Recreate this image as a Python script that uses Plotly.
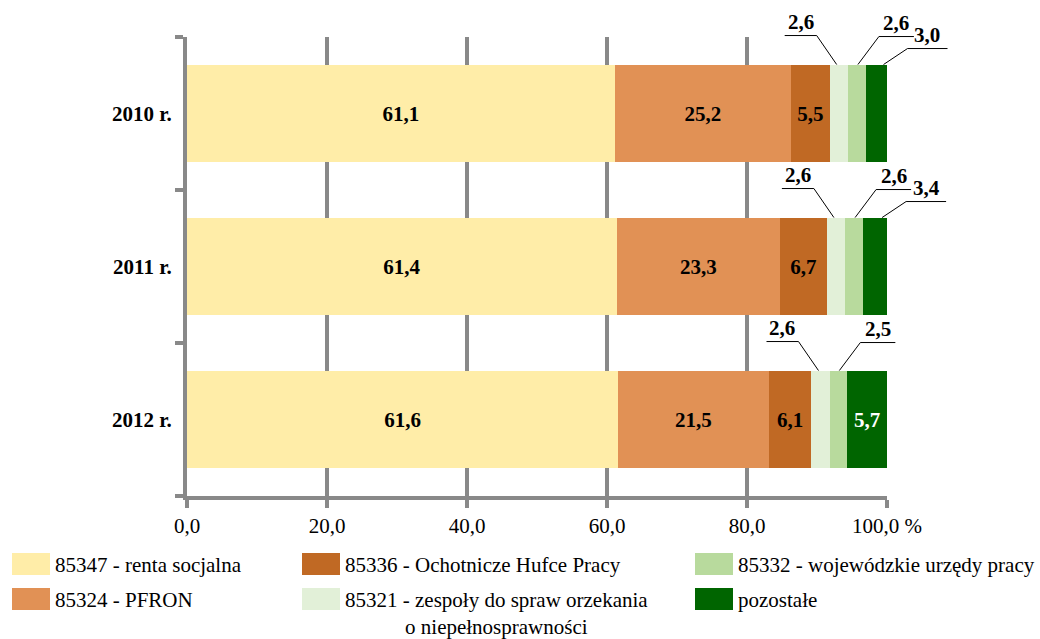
import plotly.graph_objects as go

# ---------------- data ----------------
YEARS = ["2010 r.", "2011 r.", "2012 r."]
SERIES = [
    "85347 - renta socjalna",
    "85324 - PFRON",
    "85336 - Ochotnicze Hufce Pracy",
    "85321 - zespoły do spraw orzekania<br>o niepełnosprawności",
    "85332 - wojewódzkie urzędy pracy",
    "pozostałe",
]
renta = [61.1, 61.4, 61.6]
pfron = [25.2, 23.3, 21.5]
ohp = [5.5, 6.7, 6.1]
zespoly = [2.6, 2.6, 2.6]
wup = [2.6, 2.6, 2.5]
pozostale = [3.0, 3.4, 5.7]
VALUES = [renta, pfron, ohp, zespoly, wup, pozostale]
X_TICKS = [0, 20, 40, 60, 80, 100]
X_TICKTEXT = ["0,0", "20,0", "40,0", "60,0", "80,0", "100,0 %"]

# ---------------- style ----------------
COLORS = ["#FFEDA8", "#E19155", "#C06924", "#E2F0D8", "#B8DA9D", "#006500"]
TEXT_COLORS = ["black", "black", "black", "black", "black", "white"]
GRAY = "#898989"
FONT = "Liberation Serif, Times New Roman, serif"
W, H = 1040, 639
L, R, T, B = 187, 153, 37, 143
PW, PH = W - L - R, H - T - B
BAR_W = 0.64
INSIDE_MIN = 5.0
LABEL_SIZE = 21

# leader-line style for small segments (pixels): anchor dx, elbow (dx, dy), underline length
LEADER = {
    3: dict(adx=-2, elbow=(-20, -29), under=-32),
    4: dict(adx=1, elbow=(21, -28), under=35),
    5: dict(adx=7, elbow=(24, -16), under=40),
}


def fmt(v):
    return f"{v:.1f}".replace(".", ",")


def data2px(x, y):
    return L + x / 100 * PW, T + (y + 0.5) / 3 * PH


def px2paper(px, py):
    return (px - L) / PW, (H - B - py) / PH


fig = go.Figure()
ypos = list(range(len(YEARS)))
for j, (name, vals) in enumerate(zip(SERIES, VALUES)):
    texts = [fmt(v) if v >= INSIDE_MIN else "" for v in vals]
    fig.add_trace(go.Bar(
        orientation="h", x=vals, y=ypos, name=name, width=BAR_W,
        marker=dict(color=COLORS[j], line=dict(width=0)),
        text=texts, textposition="inside", insidetextanchor="middle",
        textangle=0, constraintext="none",
        textfont=dict(family=FONT, size=LABEL_SIZE, color=TEXT_COLORS[j], weight="bold"),
        showlegend=False, hoverinfo="x+name",
    ))

shapes = []
annotations = []

# outside labels with leader lines
for i in ypos:
    cum = 0.0
    for j, vals in enumerate(VALUES):
        v = vals[i]
        if v < INSIDE_MIN and j in LEADER:
            st = LEADER[j]
            ax, ay = data2px(cum + v / 2, i - BAR_W / 2)
            ax += st["adx"]
            ex, ey = ax + st["elbow"][0], ay + st["elbow"][1]
            ux = ex + st["under"]
            p = [px2paper(ax, ay), px2paper(ex, ey), px2paper(ux, ey)]
            path = "M {:.5f},{:.5f} L {:.5f},{:.5f} L {:.5f},{:.5f}".format(
                p[0][0], p[0][1], p[1][0], p[1][1], p[2][0], p[2][1])
            shapes.append(dict(type="path", xref="paper", yref="paper", path=path,
                               line=dict(color="black", width=1)))
            tx, ty = px2paper((ex + ux) / 2, ey - 14)
            annotations.append(dict(xref="paper", yref="paper", x=tx, y=ty,
                                    text=fmt(v), showarrow=False,
                                    xanchor="center", yanchor="middle",
                                    font=dict(family=FONT, size=LABEL_SIZE, color="black",
                                              weight="bold")))
        cum += v

# manual legend
LEG_POS = [(12, 553), (12, 588), (302, 553), (302, 588), (695, 553), (695, 588)]
for j, name in enumerate(SERIES):
    sx, sy = LEG_POS[j]
    x0, y0 = px2paper(sx, sy + 22)
    x1, y1 = px2paper(sx + 38, sy)
    shapes.append(dict(type="rect", xref="paper", yref="paper", x0=x0, y0=y0,
                       x1=x1, y1=y1, fillcolor=COLORS[j], line=dict(width=0)))
    tx, ty = px2paper(sx + 41, sy + 12)
    annotations.append(dict(xref="paper", yref="paper", x=tx, y=ty, text=name,
                            showarrow=False, xanchor="left",
                            yanchor="top" if "<br>" in name else "middle",
                            yshift=14 if "<br>" in name else 0,
                            align="center",
                            font=dict(family=FONT, size=21, color="black")))

fig.update_layout(
    barmode="stack", width=W, height=H,
    margin=dict(l=L, r=R, t=T, b=B, pad=0),
    paper_bgcolor="white", plot_bgcolor="white",
    font=dict(family=FONT, size=20, color="black"),
    shapes=shapes, annotations=annotations, showlegend=False,
    xaxis=dict(
        range=[0, 100], tickvals=X_TICKS, ticktext=X_TICKTEXT,
        ticks="outside", ticklen=8, tickwidth=4, tickcolor=GRAY,
        showline=True, linecolor=GRAY, linewidth=4,
        showgrid=True, gridcolor=GRAY, gridwidth=4, zeroline=False,
        tickfont=dict(family=FONT, size=21, color="black"),
    ),
    yaxis=dict(
        range=[2.5, -0.5], tickvals=ypos, ticktext=YEARS, ticks="",
        showline=True, linecolor=GRAY, linewidth=4,
        showgrid=False, zeroline=False, ticklabelstandoff=7,
        tickfont=dict(family=FONT, size=21, color="black", weight="bold"),
        minor=dict(tickvals=[-0.5, 0.5, 1.5, 2.5], ticks="outside", ticklen=8,
                   tickwidth=4, tickcolor=GRAY, showgrid=False),
    ),
)

fig.write_html("out.html",
               config={"displayModeBar": False},
               post_script="document.body.style.margin='0px';"
                           "document.body.style.padding='0px';")
